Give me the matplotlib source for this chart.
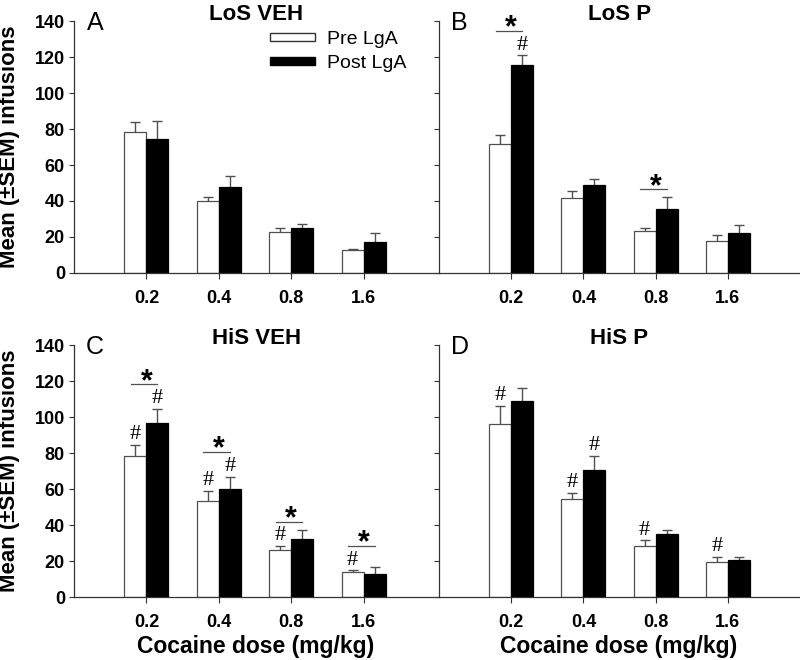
import matplotlib.pyplot as plt
import numpy as np
from matplotlib.patches import Patch

plt.rcParams['font.family'] = ['Liberation Sans', 'DejaVu Sans']

DOSES = ['0.2', '0.4', '0.8', '1.6']
TITLES = ['LoS VEH', 'LoS P', 'HiS VEH', 'HiS P']
LETTERS = ['A', 'B', 'C', 'D']

PRE_MEAN = [
    [78.2, 39.8, 22.6, 12.6],
    [71.7, 41.9, 23.1, 17.6],
    [78.6, 53.3, 26.3, 13.9],
    [96.3, 54.6, 28.2, 19.3],
]
PRE_SEM = [
    [5.7, 2.2, 2.2, 0.6],
    [5.2, 3.5, 2.1, 3.5],
    [6.1, 5.8, 2.1, 0.9],
    [10.0, 3.4, 3.3, 3.1],
]
POST_MEAN = [
    [74.6, 47.6, 24.8, 17.2],
    [115.7, 48.7, 35.7, 22.4],
    [96.5, 60.0, 32.2, 13.0],
    [108.7, 70.4, 34.8, 20.6],
]
POST_SEM = [
    [9.7, 6.4, 2.6, 4.8],
    [5.4, 3.7, 6.7, 4.1],
    [8.1, 6.9, 5.2, 3.9],
    [7.3, 8.1, 2.6, 1.8],
]

# which doses carry a '*' (pre vs post) and '#' marks over each bar
STAR_DOSES = [[], [0, 2], [0, 1, 2, 3], []]
HASH_PRE = [[], [], [0, 1, 2, 3], [0, 1, 2, 3]]
HASH_POST = [[], [0], [0, 1], [1]]

W, H = 800, 660
BAR_W = 0.305
GREY = '#505050'

fig = plt.figure(figsize=(8, 6.6), dpi=100)


def rect(left, top, width, height):
    return [left / W, 1 - (top + height) / H, width / W, height / H]


boxes = [rect(74, 21, 365, 252), rect(439, 21, 361, 252),
         rect(74, 345, 365, 252), rect(439, 345, 361, 252)]
xmax = [365 / 72.4, 5.0, 365 / 72.4, 5.0]

for i, box in enumerate(boxes):
    ax = fig.add_axes(box)
    x = np.arange(1, len(DOSES) + 1)
    pre = np.array(PRE_MEAN[i])
    post = np.array(POST_MEAN[i])
    pre_top = pre + np.array(PRE_SEM[i])
    post_top = post + np.array(POST_SEM[i])

    ax.bar(x - BAR_W / 2, pre, BAR_W, color='white', edgecolor=GREY, linewidth=0.9, zorder=2)
    ax.bar(x + BAR_W / 2, post, BAR_W, color='black', edgecolor='black', linewidth=0.9, zorder=2)
    for xs, m, s in [(x - BAR_W / 2, pre, PRE_SEM[i]), (x + BAR_W / 2, post, POST_SEM[i])]:
        ax.errorbar(xs, m, yerr=[np.zeros(len(s)), s], fmt='none', ecolor=GREY,
                    elinewidth=1, capsize=0, zorder=1)
        ax.plot(xs, m + np.array(s), ls='none', marker='_', ms=7, mew=1, color=GREY, zorder=1)

    hash_y = {}
    for d in HASH_PRE[i]:
        hash_y[d] = max(hash_y.get(d, 0), pre_top[d] + 5.5)
        ax.text(x[d] - BAR_W / 2, pre_top[d] + 5.5, '#', ha='center', va='center',
                fontsize=16, family='Liberation Serif')
    for d in HASH_POST[i]:
        hash_y[d] = max(hash_y.get(d, 0), post_top[d] + 5.5)
        ax.text(x[d] + BAR_W / 2, post_top[d] + 5.5, '#', ha='center', va='center',
                fontsize=16, family='Liberation Serif')
    for d in STAR_DOSES[i]:
        line_y = max(pre_top[d] + 4, post_top[d] + 4, hash_y.get(d, 0) + 8)
        ax.plot([x[d] - BAR_W / 2 - 0.06, x[d] + BAR_W / 2], [line_y, line_y],
                color=GREY, lw=0.9)
        ax.text(x[d], line_y - 3, '*', ha='center', va='baseline',
                fontsize=22, fontweight='bold')

    ax.set_xlim(0, xmax[i])
    ax.set_ylim(0, 140)
    ax.set_xticks(x)
    ax.set_xticklabels(DOSES)
    ax.set_yticks(np.arange(0, 141, 20))
    for side in ['top', 'right']:
        ax.spines[side].set_visible(False)
    for side in ['left', 'bottom']:
        ax.spines[side].set_color('#333333')
        ax.spines[side].set_linewidth(0.9)
    ax.tick_params(axis='y', direction='out', length=3.5, width=0.8, color='#333333',
                   labelsize=13, pad=3)
    ax.tick_params(axis='x', direction='out', length=4, width=0.8, color='#333333',
                   labelsize=13, pad=8)
    for lab in ax.get_xticklabels() + ax.get_yticklabels():
        lab.set_fontweight('bold')
    if i in (1, 3):
        ax.tick_params(axis='y', labelleft=False)

    ax.text(0.5, 1 + 6 / 252, TITLES[i], transform=ax.transAxes, ha='center',
            va='center', fontsize=16, fontweight='bold')
    ax.text(21 / 365, 1 - 2 / 252, LETTERS[i], transform=ax.transAxes, ha='center',
            va='center', fontsize=18)

    if i == 0:
        handles = [Patch(facecolor='white', edgecolor='#333333', label='Pre LgA'),
                   Patch(facecolor='black', edgecolor='black', label='Post LgA')]
        ax.legend(handles=handles, loc='upper left', bbox_to_anchor=(270 / W, 1 - 31 / H),
                  bbox_transform=fig.transFigure, frameon=False, fontsize=14,
                  handlelength=2.3, handleheight=0.3, handletextpad=0.65,
                  labelspacing=0.35, borderpad=0, borderaxespad=0)

for yc in (147, 471):
    fig.text(10 / W, 1 - yc / H, 'Mean (±SEM) infusions', rotation=90, ha='center',
             va='center', fontsize=16, fontweight='bold')
for xc in (256, 619):
    fig.text(xc / W, 1 - 647 / H, 'Cocaine dose (mg/kg)', ha='center', va='center',
             fontsize=16.5, fontweight='bold')

fig.savefig('out.png', dpi=100)
